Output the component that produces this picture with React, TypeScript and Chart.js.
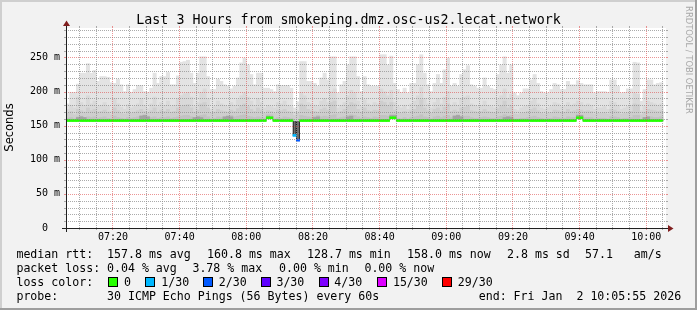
import { useEffect, useRef } from "react";
import { Chart, registerables } from "chart.js";

Chart.register(...registerables);

const W = 697;
const H = 310;

const TITLE = "Last 3 Hours from smokeping.dmz.osc-us2.lecat.network";
const Y_TITLE = "Seconds";
const WATERMARK = "RRDTOOL / TOBI OETIKER";

// time axis in minutes of the day
const VIEW_START = 425 + 55 / 60; // 07:05:55
const VIEW_END = 605 + 55 / 60; // 10:05:55
const FIRST_MINUTE = 426; // first minute step 07:06 - 07:07
const Y_MAX = 293.2;

const xTickValues = [440, 460, 480, 500, 520, 540, 560, 580, 600];
const xTickLabels = ["07:20", "07:40", "08:00", "08:20", "08:40", "09:00", "09:20", "09:40", "10:00"];
const yTickValues = [0, 50, 100, 150, 200, 250];
const yTickLabels = ["0  ", "50 m", "100 m", "150 m", "200 m", "250 m"];

// highest ping per minute (ms)
const smokeTop = [
  182, 199, 199, 211, 227, 227, 241, 227, 231, 215, 222, 222, 221, 213, 212, 218, 210, 200, 210, 199, 203, 209, 209, 200, 199, 205, 227, 212, 222, 222,
  228, 210, 210, 223, 243, 244, 246, 227, 212, 227, 251, 251, 222, 203, 203, 218, 215, 210, 208, 204, 208, 220, 242, 249, 239, 225, 210, 227, 227, 205,
  205, 203, 200, 210, 209, 209, 209, 205, 176, 185, 244, 244, 215, 215, 212, 208, 220, 227, 217, 251, 251, 198, 210, 215, 239, 251, 251, 222, 200, 222,
  210, 208, 208, 208, 254, 254, 239, 252, 212, 203, 199, 205, 198, 212, 212, 239, 254, 227, 210, 200, 212, 225, 212, 232, 249, 208, 212, 208, 225, 232,
  238, 210, 208, 205, 205, 220, 208, 205, 203, 225, 239, 251, 227, 239, 198, 194, 198, 204, 204, 217, 225, 212, 200, 198, 198, 203, 212, 210, 203, 203,
  215, 210, 210, 216, 212, 210, 210, 210, 198, 200, 200, 200, 199, 217, 217, 208, 198, 199, 204, 204, 243, 242, 186, 203, 217, 217, 210, 212, 213,
];

// second highest ping per minute
const smokeMid = [
  174, 180, 176, 192, 184, 180, 194, 182, 186, 178, 180, 184, 179, 172, 190, 182, 177, 174, 181, 176, 178, 182, 190, 180, 175, 182, 192, 178, 184, 180,
  186, 178, 180, 190, 194, 197, 199, 192, 178, 184, 199, 204, 189, 174, 178, 186, 182, 180, 178, 184, 180, 188, 194, 198, 192, 186, 180, 190, 184, 176,
  180, 178, 176, 184, 182, 186, 180, 178, 170, 172, 199, 194, 184, 182, 180, 178, 186, 190, 184, 200, 204, 176, 180, 184, 194, 202, 199, 186, 178, 188,
  182, 180, 184, 182, 204, 200, 194, 202, 184, 178, 176, 180, 174, 182, 186, 194, 206, 190, 182, 176, 184, 190, 182, 192, 200, 180, 184, 180, 190, 192,
  194, 182, 180, 178, 180, 186, 180, 178, 176, 188, 194, 204, 190, 196, 174, 172, 176, 178, 180, 186, 190, 182, 176, 174, 176, 178, 184, 182, 178, 178,
  184, 180, 182, 186, 184, 180, 182, 180, 174, 176, 176, 178, 174, 186, 184, 180, 174, 176, 178, 180, 198, 196, 172, 178, 186, 184, 182, 180, 182,
];

// third highest ping per minute
const smokeLow = [
  168, 171, 166, 174, 172, 170, 176, 172, 174, 170, 171, 173, 170, 166, 176, 172, 168, 167, 171, 168, 170, 172, 174, 171, 168, 172, 176, 170, 173, 171,
  174, 170, 171, 176, 178, 180, 181, 176, 170, 173, 182, 184, 176, 168, 170, 174, 172, 171, 170, 173, 171, 175, 179, 182, 178, 174, 171, 176, 173, 168,
  172, 171, 168, 173, 172, 174, 171, 170, 165, 168, 182, 180, 174, 172, 171, 170, 174, 176, 173, 184, 186, 168, 171, 174, 179, 184, 182, 174, 170, 176,
  172, 171, 173, 172, 186, 184, 180, 184, 173, 170, 168, 171, 167, 172, 174, 179, 188, 176, 172, 168, 174, 176, 172, 177, 182, 171, 173, 171, 176, 177,
  179, 172, 171, 170, 171, 174, 171, 170, 169, 175, 179, 186, 176, 180, 167, 166, 168, 169, 171, 174, 176, 172, 168, 167, 168, 169, 173, 172, 170, 170,
  174, 171, 172, 174, 173, 171, 172, 171, 167, 168, 168, 169, 167, 174, 173, 171, 167, 168, 169, 171, 182, 181, 166, 170, 174, 173, 172, 171, 172,
];

// upper edge of the denser core of pings
const smokeCore = [
  161, 162, 160, 163, 164, 162, 163, 162, 163, 161, 162, 163, 161, 160, 164, 162, 161, 160, 162, 161, 162, 163, 165, 166, 164, 162, 163, 161, 162, 162,
  163, 161, 162, 163, 164, 165, 165, 163, 161, 164, 165, 166, 163, 160, 161, 163, 162, 163, 164, 165, 163, 164, 165, 166, 164, 163, 162, 163, 162, 161,
  166, 166, 160, 162, 161, 163, 162, 161, 157, 157, 165, 164, 163, 162, 164, 165, 163, 164, 163, 165, 166, 161, 162, 163, 165, 166, 165, 163, 161, 163,
  162, 161, 163, 162, 165, 165, 164, 167, 167, 161, 160, 162, 160, 162, 163, 164, 166, 163, 162, 160, 163, 164, 162, 164, 165, 162, 165, 166, 164, 164,
  164, 162, 161, 161, 162, 163, 162, 161, 161, 163, 164, 166, 164, 165, 160, 160, 161, 161, 162, 163, 164, 162, 161, 160, 161, 161, 163, 162, 161, 161,
  163, 162, 162, 167, 166, 162, 162, 162, 160, 161, 161, 161, 160, 163, 163, 162, 160, 161, 161, 162, 165, 165, 159, 162, 163, 163, 162, 162, 163,
];

// innermost dark pings just above the median
const smokeInner = [
  159, 159, 159, 162, 163, 162, 159, 159, 159, 159, 159, 159, 159, 159, 159, 159, 159, 159, 159, 159, 159, 159, 164, 165, 163, 159, 159, 159, 159, 159,
  159, 159, 159, 159, 159, 159, 159, 159, 162, 163, 162, 159, 159, 159, 159, 159, 159, 163, 164, 163, 159, 159, 159, 159, 159, 159, 159, 159, 159, 159,
  164, 163, 159, 159, 159, 159, 159, 159, 136, 129, 159, 159, 159, 159, 162, 163, 159, 159, 159, 159, 159, 159, 159, 159, 163, 164, 159, 159, 159, 159,
  159, 159, 159, 159, 159, 159, 159, 165, 165, 159, 159, 159, 159, 159, 159, 159, 159, 159, 159, 159, 159, 159, 159, 159, 159, 159, 164, 165, 163, 159,
  159, 159, 159, 159, 159, 159, 159, 159, 159, 159, 159, 162, 163, 162, 159, 159, 159, 159, 159, 159, 159, 159, 159, 159, 159, 159, 159, 159, 159, 159,
  159, 159, 159, 165, 165, 159, 159, 159, 159, 159, 159, 159, 159, 159, 159, 159, 159, 159, 159, 159, 159, 159, 159, 162, 163, 159, 159, 159, 159,
];

// median rtt per minute
const medianRtt = [
  157.5, 157.5, 157.5, 157.5, 157.5, 157.5, 157.5, 157.5, 157.5, 157.5, 157.5, 157.5, 157.5, 157.5, 157.5, 157.5, 157.5, 157.5, 157.5, 157.5, 157.5, 157.5, 157.5, 157.5, 157.5, 157.5, 157.5, 157.5, 157.5, 157.5,
  157.5, 157.5, 157.5, 157.5, 157.5, 157.5, 157.5, 157.5, 157.5, 157.5, 157.5, 157.5, 157.5, 157.5, 157.5, 157.5, 157.5, 157.5, 157.5, 157.5, 157.5, 157.5, 157.5, 157.5, 157.5, 157.5, 157.5, 157.5, 157.5, 157.5,
  161.5, 161.5, 157.5, 157.5, 157.5, 157.5, 157.5, 157.5, 135.7, 128.7, 157.5, 157.5, 157.5, 157.5, 157.5, 157.5, 157.5, 157.5, 157.5, 157.5, 157.5, 157.5, 157.5, 157.5, 157.5, 157.5, 157.5, 157.5, 157.5, 157.5,
  157.5, 157.5, 157.5, 157.5, 157.5, 157.5, 157.5, 161.5, 161.5, 157.5, 157.5, 157.5, 157.5, 157.5, 157.5, 157.5, 157.5, 157.5, 157.5, 157.5, 157.5, 157.5, 157.5, 157.5, 157.5, 157.5, 157.5, 157.5, 157.5, 157.5,
  157.5, 157.5, 157.5, 157.5, 157.5, 157.5, 157.5, 157.5, 157.5, 157.5, 157.5, 157.5, 157.5, 157.5, 157.5, 157.5, 157.5, 157.5, 157.5, 157.5, 157.5, 157.5, 157.5, 157.5, 157.5, 157.5, 157.5, 157.5, 157.5, 157.5,
  157.5, 157.5, 157.5, 161.5, 161.5, 157.5, 157.5, 157.5, 157.5, 157.5, 157.5, 157.5, 157.5, 157.5, 157.5, 157.5, 157.5, 157.5, 157.5, 157.5, 157.5, 157.5, 157.5, 157.5, 157.5, 157.5, 157.5, 157.5, 157.5,
];

// lost pings per minute (out of 30)
const lostPings = [
  0, 0, 0, 0, 0, 0, 0, 0, 0, 0, 0, 0, 0, 0, 0, 0, 0, 0, 0, 0, 0, 0, 0, 0, 0, 0, 0, 0, 0, 0,
  0, 0, 0, 0, 0, 0, 0, 0, 0, 0, 0, 0, 0, 0, 0, 0, 0, 0, 0, 0, 0, 0, 0, 0, 0, 0, 0, 0, 0, 0,
  0, 0, 0, 0, 0, 0, 0, 0, 1, 2, 0, 0, 0, 0, 0, 0, 0, 0, 0, 0, 0, 0, 0, 0, 0, 0, 0, 0, 0, 0,
  0, 0, 0, 0, 0, 0, 0, 0, 0, 0, 0, 0, 0, 0, 0, 0, 0, 0, 0, 0, 0, 0, 0, 0, 0, 0, 0, 0, 0, 0,
  0, 0, 0, 0, 0, 0, 0, 0, 0, 0, 0, 0, 0, 0, 0, 0, 0, 0, 0, 0, 0, 0, 0, 0, 0, 0, 0, 0, 0, 0,
  0, 0, 0, 0, 0, 0, 0, 0, 0, 0, 0, 0, 0, 0, 0, 0, 0, 0, 0, 0, 0, 0, 0, 0, 0, 0, 0, 0, 0,
];

// legend
const rttLabel = "median rtt:";
const rttItems = ["157.8 ms avg", "160.8 ms max", "128.7 ms min", "158.0 ms now", "2.8 ms sd", "57.1   am/s"];
const lossLabel = "packet loss:";
const lossItems = ["0.04 % avg", "3.78 % max", "0.00 % min", "0.00 % now"];
const lossColorLabel = "loss color:";
const lossColorLabels = ["0", "1/30", "2/30", "3/30", "4/30", "15/30", "29/30"];
const lossColorValues = ["#26ff00", "#00b8ff", "#0059ff", "#5e00ff", "#7e00ff", "#dd00ff", "#ff0000"];
const probeLabel = "probe:";
const probeText = "30 ICMP Echo Pings (56 Bytes) every 60s";
const endText = "end: Fri Jan  2 10:05:55 2026";

const MONO = '"DejaVu Sans Mono", monospace';
const SANS = '"DejaVu Sans", sans-serif';

function lossColor(n: number): string {
  if (n <= 0) return lossColorValues[0];
  if (n === 1) return lossColorValues[1];
  if (n === 2) return lossColorValues[2];
  if (n === 3) return lossColorValues[3];
  if (n <= 4) return lossColorValues[4];
  if (n <= 15) return lossColorValues[5];
  return lossColorValues[6];
}

const rrdPlugin = {
  id: "rrdLook",
  beforeDraw(chart: any) {
    const ctx = chart.ctx as CanvasRenderingContext2D;
    const a = chart.chartArea;
    ctx.save();
    ctx.fillStyle = "#f2f2f2";
    ctx.fillRect(0, 0, W, H);
    ctx.fillStyle = "#cfcfcf";
    ctx.fillRect(0, 0, W, 2);
    ctx.fillRect(0, 0, 2, H);
    ctx.fillStyle = "#9e9e9e";
    ctx.fillRect(0, H - 2, W, 2);
    ctx.fillRect(W - 2, 0, 2, H);
    ctx.fillStyle = "#ffffff";
    ctx.fillRect(a.left, a.top, a.right - a.left, a.bottom - a.top);
    ctx.restore();
  },
  afterDatasetsDraw(chart: any) {
    const ctx = chart.ctx as CanvasRenderingContext2D;
    const a = chart.chartArea;
    const xs = chart.scales.x;
    const ys = chart.scales.y;
    const L = Math.round(a.left);
    const R = Math.round(a.right);
    const T = Math.round(a.top);
    const B = Math.round(a.bottom);
    const minor = "rgba(143,143,143,0.75)";
    const major = "rgba(222,79,79,0.6)";
    ctx.save();
    ctx.lineWidth = 1;
    const seg = (x1: number, y1: number, x2: number, y2: number, color: string, dash: number[]) => {
      ctx.strokeStyle = color;
      ctx.setLineDash(dash);
      ctx.beginPath();
      ctx.moveTo(x1, y1);
      ctx.lineTo(x2, y2);
      ctx.stroke();
    };
    // horizontal grid every 10 ms, major every 50 ms
    for (let v = 10; v < ys.max; v += 10) {
      const y = Math.round(ys.getPixelForValue(v)) + 0.5;
      const col = v % 50 === 0 ? major : minor;
      seg(L - 2, y, L, y, col, []);
      seg(R, y, R + 2, y, col, []);
      seg(L, y, R, y, col, [1, 1]);
    }
    // vertical grid every 5 min, major every 20 min
    for (let t = Math.ceil(xs.min / 5) * 5; t <= xs.max; t += 5) {
      const x = Math.floor(xs.getPixelForValue(t)) + 0.5;
      const col = t % 20 === 0 ? major : minor;
      seg(x, T - 2, x, T, col, []);
      seg(x, B, x, B + 2, col, []);
      seg(x, B, x, T, col, [1, 1]);
    }
    // axes
    ctx.setLineDash([]);
    seg(L - 4, B + 0.5, R + 4, B + 0.5, "#202020", []);
    seg(L + 0.5, B + 4, L + 0.5, T - 4, "#202020", []);
    ctx.fillStyle = "#801f1f";
    ctx.beginPath();
    ctx.moveTo(R + 2, B - 3);
    ctx.lineTo(R + 2, B + 4);
    ctx.lineTo(R + 7.5, B + 0.5);
    ctx.closePath();
    ctx.fill();
    ctx.beginPath();
    ctx.moveTo(L - 3, T - 2);
    ctx.lineTo(L + 4, T - 2);
    ctx.lineTo(L + 0.5, T - 7.5);
    ctx.closePath();
    ctx.fill();
    ctx.restore();
  },
  afterDraw(chart: any) {
    const ctx = chart.ctx as CanvasRenderingContext2D;
    ctx.save();
    ctx.fillStyle = "#000000";
    ctx.textBaseline = "alphabetic";
    // title
    ctx.font = `13.3px ${MONO}`;
    ctx.textAlign = "center";
    ctx.fillText(TITLE, 348.5, 24);
    // y title
    ctx.save();
    ctx.translate(10.5, 127.5);
    ctx.rotate(-Math.PI / 2);
    ctx.font = `11.5px ${SANS}`;
    ctx.textBaseline = "middle";
    ctx.fillText(Y_TITLE, 0, 0);
    ctx.restore();
    // legend
    ctx.textAlign = "left";
    ctx.font = `11.6px ${MONO}`;
    const rowY = [258, 272, 286, 300];
    ctx.fillText(rttLabel, 16.4, rowY[0]);
    const rttX = [107, 207, 307, 407, 507, 585];
    rttItems.forEach((s, i) => ctx.fillText(s, rttX[i], rowY[0]));
    ctx.fillText(lossLabel, 16.4, rowY[1]);
    const lossX = [107, 192.4, 279, 364.4];
    lossItems.forEach((s, i) => ctx.fillText(s, lossX[i], rowY[1]));
    ctx.fillText(lossColorLabel, 16.4, rowY[2]);
    const boxX = [109, 146, 204, 262, 320, 378, 443];
    const boxLabelX = [124, 161.3, 218.7, 276.4, 334.2, 392.9, 457.8];
    lossColorLabels.forEach((s, i) => {
      ctx.fillStyle = lossColorValues[i];
      ctx.fillRect(boxX[i], rowY[2] - 8, 8, 8);
      ctx.strokeStyle = "#000000";
      ctx.lineWidth = 1;
      ctx.strokeRect(boxX[i] - 0.5, rowY[2] - 8.5, 9, 9);
      ctx.fillStyle = "#000000";
      ctx.fillText(s, boxLabelX[i], rowY[2]);
    });
    ctx.fillText(probeLabel, 16.4, rowY[3]);
    ctx.fillText(probeText, 107, rowY[3]);
    ctx.fillText(endText, 478.7, rowY[3]);
    // watermark
    ctx.save();
    ctx.translate(688, 60);
    ctx.rotate(Math.PI / 2);
    ctx.font = `8.4px ${SANS}`;
    ctx.fillStyle = "#a8a8a8";
    ctx.textAlign = "center";
    ctx.textBaseline = "middle";
    ctx.fillText(WATERMARK, 0, 0);
    ctx.restore();
    ctx.restore();
  },
};

export default function App() {
  const ref = useRef<HTMLCanvasElement>(null);

  useEffect(() => {
    const canvas = ref.current;
    if (!canvas) return;
    const xCenter = medianRtt.map((_, i) => FIRST_MINUTE + i + 0.5);
    const band = (hi: number[]) => hi.map((h, i) => ({ x: xCenter[i], y: [medianRtt[i], h] }));
    const common = {
      type: "bar" as const,
      grouped: false,
      barPercentage: 1,
      categoryPercentage: 1,
      borderWidth: 0,
    };
    const chart = new Chart(canvas, {
      type: "bar",
      data: {
        datasets: [
          {
            ...common,
            label: "median",
            data: medianRtt.map((m, i) => ({ x: xCenter[i], y: [m - 1.47, m + 1.47] })),
            backgroundColor: lostPings.map((n) => lossColor(n)),
          },
          { ...common, label: "inner", data: band(smokeInner), backgroundColor: "#a4a4a4" },
          {
            ...common,
            label: "core",
            data: band(smokeCore),
            backgroundColor: (c: any) => (lostPings[c.dataIndex] > 0 ? "#707070" : "#c2c2c2"),
            borderColor: "#1a1a1a",
            borderSkipped: false,
            borderWidth: (c: any) =>
              lostPings[c.dataIndex] > 0 ? { left: 1, right: 1, top: 0, bottom: 0 } : 0,
          },
          { ...common, label: "low", data: band(smokeLow), backgroundColor: "#cecece" },
          { ...common, label: "mid", data: band(smokeMid), backgroundColor: "#d9d9d9" },
          { ...common, label: "top", data: band(smokeTop), backgroundColor: "#e3e3e3" },
        ] as any,
      },
      options: {
        animation: false,
        responsive: false,
        devicePixelRatio: 1,
        events: [],
        layout: { padding: { left: 0, top: 28, right: W - 666, bottom: 0 } },
        plugins: { legend: { display: false }, tooltip: { enabled: false }, title: { display: false } },
        scales: {
          x: {
            type: "linear",
            min: VIEW_START,
            max: VIEW_END,
            offset: false,
            grid: { display: false, drawTicks: false },
            border: { display: false },
            afterFit: (s: any) => {
              s.height = H - 228;
            },
            afterBuildTicks: (s: any) => {
              s.ticks = xTickValues.map((v) => ({ value: v }));
            },
            ticks: {
              autoSkip: false,
              maxRotation: 0,
              minRotation: 0,
              padding: 3,
              color: "#000000",
              font: { family: MONO, size: 10 },
              callback: (_v: any, i: number) => xTickLabels[i],
            },
          },
          y: {
            type: "linear",
            min: 0,
            max: Y_MAX,
            grid: { display: false, drawTicks: false },
            border: { display: false },
            afterFit: (s: any) => {
              s.width = 66;
            },
            afterBuildTicks: (s: any) => {
              s.ticks = yTickValues.map((v) => ({ value: v }));
            },
            ticks: {
              autoSkip: false,
              padding: 6,
              color: "#000000",
              font: { family: MONO, size: 10 },
              callback: (_v: any, i: number) => yTickLabels[i],
            },
          },
        },
      } as any,
      plugins: [rrdPlugin],
    });
    return () => chart.destroy();
  }, []);

  return (
    <div style={{ position: "absolute", left: 0, top: 0, width: W, height: H }}>
      <canvas ref={ref} width={W} height={H} style={{ display: "block", width: W, height: H }} />
    </div>
  );
}
